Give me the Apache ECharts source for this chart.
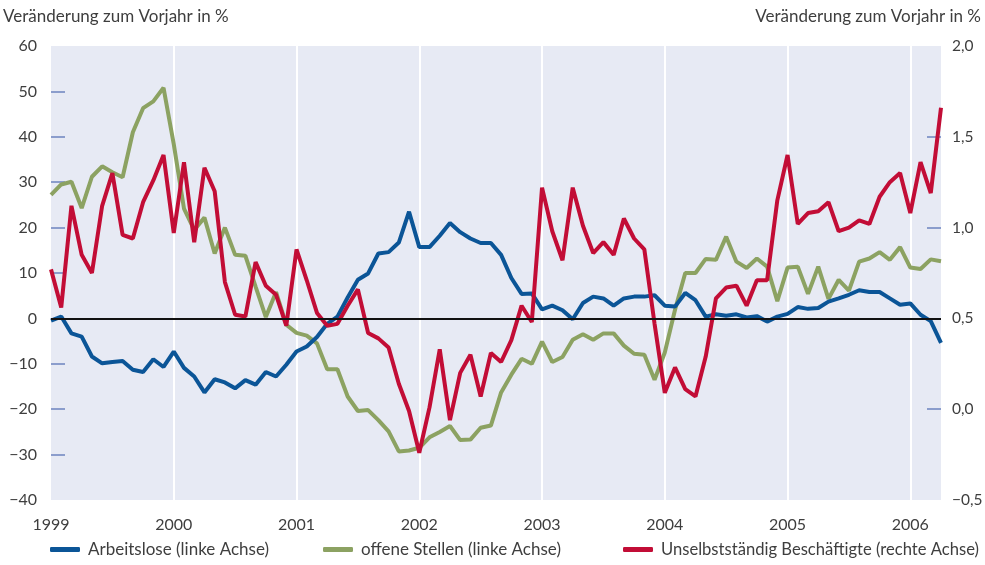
<!DOCTYPE html>
<html>
<head>
<meta charset="utf-8">
<script src="https://cdn.jsdelivr.net/npm/echarts@6/dist/echarts.min.js"></script>
<style>
  html, body { margin: 0; padding: 0; background: #fff; }
  #chart { width: 985px; height: 565px; }
</style>
</head>
<body>
<div id="chart"></div>
<script>
  // Monatswerte Jan 1999 bis Apr 2006
  var years = ['1999', '2000', '2001', '2002', '2003', '2004', '2005', '2006']
  var months = []
  years.forEach(function (y) {
    for (var m = 1; m <= 12; m++) {
      if (y === '2006' && m > 4) break
      months.push(y + '-' + (m < 10 ? '0' + m : m))
    }
  })

  // Ticks (Randwerte ohne Strich)
  var leftTicks = [-30, -20, -10, 0, 10, 20, 30, 40, 50]
  var rightTicks = [0, 0.5, 1, 1.5]

  // Arbeitslose (linke Achse)
  var arbeitslose = [
    -0.5, 0.4, -3.3, -4.0, -8.4, -9.9, -9.6, -9.4, -11.3, -11.8, -9.0, -10.7,
    -7.3, -10.9, -12.8, -16.3, -13.4, -14.1, -15.4, -13.6, -14.6, -11.8, -12.8, -10.2,
    -7.3, -6.2, -4.1, -1.2, 0.4, 4.6, 8.5, 9.9, 14.3, 14.6, 16.7, 23.5,
    15.7, 15.7, 18.2, 21.0, 19.0, 17.6, 16.6, 16.6, 14.0, 8.9, 5.4, 5.5,
    2.0, 2.8, 1.8, -0.2, 3.4, 4.8, 4.4, 2.8, 4.4, 4.8, 4.8, 5.1,
    2.8, 2.6, 5.6, 4.0, 0.4, 0.9, 0.6, 0.9, 0.2, 0.5, -0.7, 0.4,
    1.0, 2.5, 2.1, 2.3, 3.7, 4.4, 5.2, 6.2, 5.8, 5.8, 4.4, 3.0,
    3.3, 0.8, -0.6, -5.4
  ]

  // offene Stellen (linke Achse)
  var offeneStellen = [
    27.2, 29.5, 30.1, 24.3, 31.2, 33.5, 32.2, 31.1, 41.0, 46.3, 47.8, 50.8,
    38.4, 24.2, 19.5, 22.2, 14.3, 20.0, 14.0, 13.8, 7.0, 0.3, 5.8, -1.4,
    -3.2, -3.8, -5.5, -11.2, -11.2, -17.2, -20.4, -20.2, -22.4, -24.9, -29.3, -29.1,
    -28.5, -26.2, -25.0, -23.7, -26.8, -26.7, -24.1, -23.6, -16.3, -12.4, -8.9, -10.0,
    -5.1, -9.6, -8.5, -4.7, -3.5, -4.7, -3.3, -3.3, -6.0, -7.8, -8.0, -13.5,
    -7.5, 1.9, 10.0, 10.0, 13.1, 12.9, 18.0, 12.5, 11.1, 13.2, 11.4, 3.8,
    11.2, 11.4, 5.4, 11.4, 4.3, 8.5, 6.1, 12.5, 13.2, 14.6, 12.9, 15.7,
    11.2, 10.9, 13.0, 12.6
  ]

  // Unselbstständig Beschäftigte (rechte Achse)
  var beschaeftigte = [
    0.77, 0.56, 1.12, 0.85, 0.75, 1.12, 1.30, 0.96, 0.94, 1.14, 1.26, 1.40,
    0.97, 1.36, 0.92, 1.33, 1.20, 0.70, 0.52, 0.51, 0.81, 0.68, 0.63, 0.46,
    0.88, 0.71, 0.53, 0.46, 0.47, 0.57, 0.66, 0.42, 0.39, 0.34, 0.14, -0.01,
    -0.24, 0.01, 0.33, -0.06, 0.20, 0.30, 0.07, 0.31, 0.26, 0.38, 0.57, 0.48,
    1.22, 0.98, 0.82, 1.22, 1.01, 0.86, 0.92, 0.85, 1.05, 0.94, 0.88, 0.47,
    0.09, 0.23, 0.11, 0.07, 0.29, 0.61, 0.67, 0.68, 0.57, 0.71, 0.71, 1.15,
    1.40, 1.02, 1.08, 1.09, 1.14, 0.98, 1.00, 1.04, 1.02, 1.17, 1.25, 1.30,
    1.08, 1.36, 1.19, 1.66
  ]

  var names = ['Arbeitslose (linke Achse)', 'offene Stellen (linke Achse)', 'Unselbstständig Beschäftigte (rechte Achse)']
  var colors = ['#0b5597', '#8ca262', '#c20d36']
  var font = 'Lato, "Open Sans", sans-serif'
  var textColor = '#3e3e3e'
  var fs = 17
  var axisFs = 16

  function minus(v) {
    return String(v).replace('-', '\u2212')
  }

  var chart = echarts.init(document.getElementById('chart'))

  function legendAt(i, left, size) {
    return {
      data: [names[i]],
      left: left,
      top: 541,
      padding: 0,
      itemWidth: 30,
      itemHeight: 5,
      icon: 'roundRect',
      textStyle: { fontFamily: font, fontSize: size, color: textColor, padding: [0, 0, 0, 3] }
    }
  }

  chart.setOption({
    animation: false,
    color: colors,
    textStyle: { fontFamily: font },
    title: [{
      text: 'Veränderung zum Vorjahr in %',
      left: 3,
      top: 8,
      padding: 0,
      textStyle: { fontFamily: font, fontSize: fs, fontWeight: 'normal', color: textColor }
    }, {
      text: 'Veränderung zum Vorjahr in %',
      right: 4,
      top: 8,
      padding: 0,
      textStyle: { fontFamily: font, fontSize: fs, fontWeight: 'normal', color: textColor }
    }],
    legend: [legendAt(0, 50, fs), legendAt(1, 323, fs), legendAt(2, 623, 16.6)],
    grid: {
      left: 51,
      right: 44,
      top: 46,
      bottom: 65,
      outerBoundsMode: 'none',
      containLabel: false,
      show: true,
      backgroundColor: '#e7eaf4',
      borderWidth: 0
    },
    xAxis: {
      type: 'category',
      data: months,
      boundaryGap: false,
      axisLine: { show: false, onZero: false },
      axisTick: { show: false },
      axisLabel: {
        interval: function (index) { return index % 12 === 0 },
        formatter: function (v) { return v.slice(0, 4) },
        fontFamily: font,
        fontSize: axisFs,
        color: textColor,
        margin: 17
      },
      splitLine: {
        show: true,
        interval: function (index) { return index % 12 === 0 && index > 0 },
        lineStyle: { color: '#ffffff', width: 2 }
      }
    },
    yAxis: [{
      type: 'value',
      min: -40,
      max: 60,
      interval: 10,
      axisLine: { show: false },
      axisTick: {
        show: true, inside: true, length: 14, customValues: leftTicks,
        lineStyle: { color: '#8b9dcc', width: 2 }
      },
      splitLine: { show: false },
      axisLabel: {
        fontFamily: font,
        fontSize: axisFs,
        color: textColor,
        margin: 14,
        formatter: function (v) { return minus(v) }
      }
    }, {
      type: 'value',
      min: -0.5,
      max: 2,
      interval: 0.5,
      position: 'right',
      axisLine: { show: false },
      axisTick: {
        show: true, inside: true, length: 14, customValues: rightTicks,
        lineStyle: { color: '#8b9dcc', width: 2 }
      },
      splitLine: { show: false },
      axisLabel: {
        fontFamily: font,
        fontSize: 15.5,
        color: textColor,
        margin: 11,
        formatter: function (v) { return minus(v.toFixed(1).replace('.', ',')) }
      }
    }],
    series: [{
      name: names[0],
      type: 'line',
      yAxisIndex: 0,
      data: arbeitslose,
      symbol: 'none',
      lineStyle: { width: 4, color: colors[0] },
      z: 3,
      markLine: {
        silent: true,
        symbol: 'none',
        label: { show: false },
        lineStyle: { color: '#111111', width: 2, type: 'solid' },
        data: [{ yAxis: 0 }]
      }
    }, {
      name: names[1],
      type: 'line',
      yAxisIndex: 0,
      data: offeneStellen,
      symbol: 'none',
      lineStyle: { width: 4, color: colors[1] },
      z: 2
    }, {
      name: names[2],
      type: 'line',
      yAxisIndex: 1,
      data: beschaeftigte,
      symbol: 'none',
      lineStyle: { width: 4, color: colors[2] },
      z: 4
    }]
  })
</script>
</body>
</html>
